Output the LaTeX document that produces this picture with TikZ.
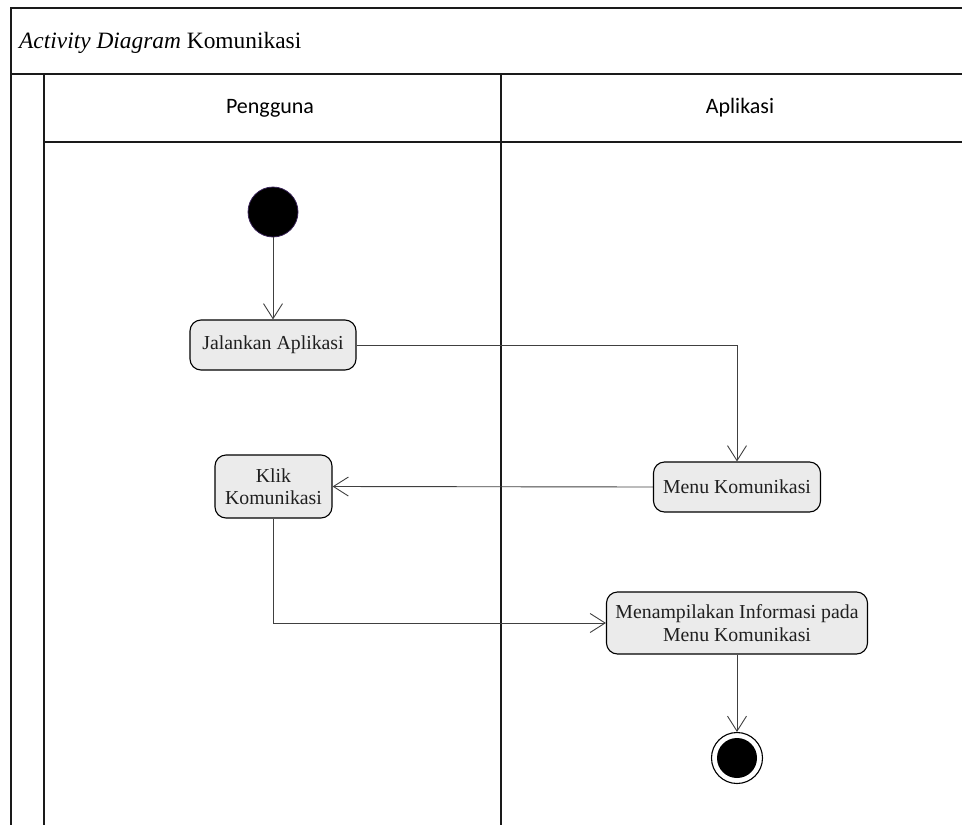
\documentclass[tikz,border=0pt]{standalone}
\usepackage{fontspec}
\setmainfont{Liberation Serif}
\newfontfamily\headfont{Carlito}
\usetikzlibrary{arrows.meta}

\definecolor{actfill}{HTML}{EBEBEB}
\definecolor{flowgray}{HTML}{404040}
\definecolor{framegray}{HTML}{1A1A1A}
\definecolor{startrim}{HTML}{3A2458}

\begin{document}
\begin{tikzpicture}[x=1pt,y=-1pt,
  frameline/.style={draw=framegray, line width=1.4pt},
  action/.style={draw=black, line width=1.1pt, fill=actfill,
    rounded corners=11pt, align=center, inner sep=0pt,
    font=\fontsize{19.8}{22.5}\selectfont, text=black!88},
  flow/.style={draw=flowgray, line width=0.9pt,
    -{Straight Barb[length=15pt,width=19pt,line width=0.9pt]}},
  lanehead/.style={font=\headfont\fontsize{22}{26}\selectfont, text=black}]

\useasboundingbox (0,0) rectangle (962,825);

% swimlane frame
\draw[frameline] (11,825) -- (11,8) -- (962,8);
\draw[frameline] (11,74) -- (962,74);
\draw[frameline] (44,825) -- (44,74);
\draw[frameline] (44,142) -- (962,142);
\draw[frameline] (501,74) -- (501,825);

% title and lane headers
\node[anchor=base west, inner sep=0pt, font=\fontsize{23.4}{27}\selectfont]
  (title) at (19,48) {\textit{Activity Diagram} Komunikasi};
\node[lanehead] (lane1) at (270,108) {Pengguna};
\node[lanehead] (lane2) at (740,108) {Aplikasi};

% activity nodes
\node[circle, fill=black, draw=startrim, line width=0.8pt,
  minimum size=50pt, inner sep=0pt] (start) at (273,212) {};
\node[action, minimum width=166pt, minimum height=50pt]
  (jal) at (273,345) {Jalankan Aplikasi};
\node[action, minimum width=167pt, minimum height=50pt]
  (menu) at (737,487) {Menu Komunikasi};
\node[action, minimum width=117pt, minimum height=63pt]
  (klik) at (273.5,486.5) {Klik\\Komunikasi};
\node[action, minimum width=261pt, minimum height=62pt]
  (info) at (737,623) {Menampilakan Informasi pada\\Menu Komunikasi};
\node[circle, draw=black, fill=white, line width=1.1pt,
  minimum size=51pt, inner sep=0pt] (end) at (737,758) {};
\fill[black] (end.center) circle (20);

% control flow
\draw[flow] (start) -- (jal);
\draw[flow] (jal.east) -| (menu.north);
\draw[flow] (menu.west) -- (klik.east);
\draw[flow] (klik.south) |- (info.west);
\draw[flow] (info.south) -- (end.north);

\end{tikzpicture}
\end{document}
